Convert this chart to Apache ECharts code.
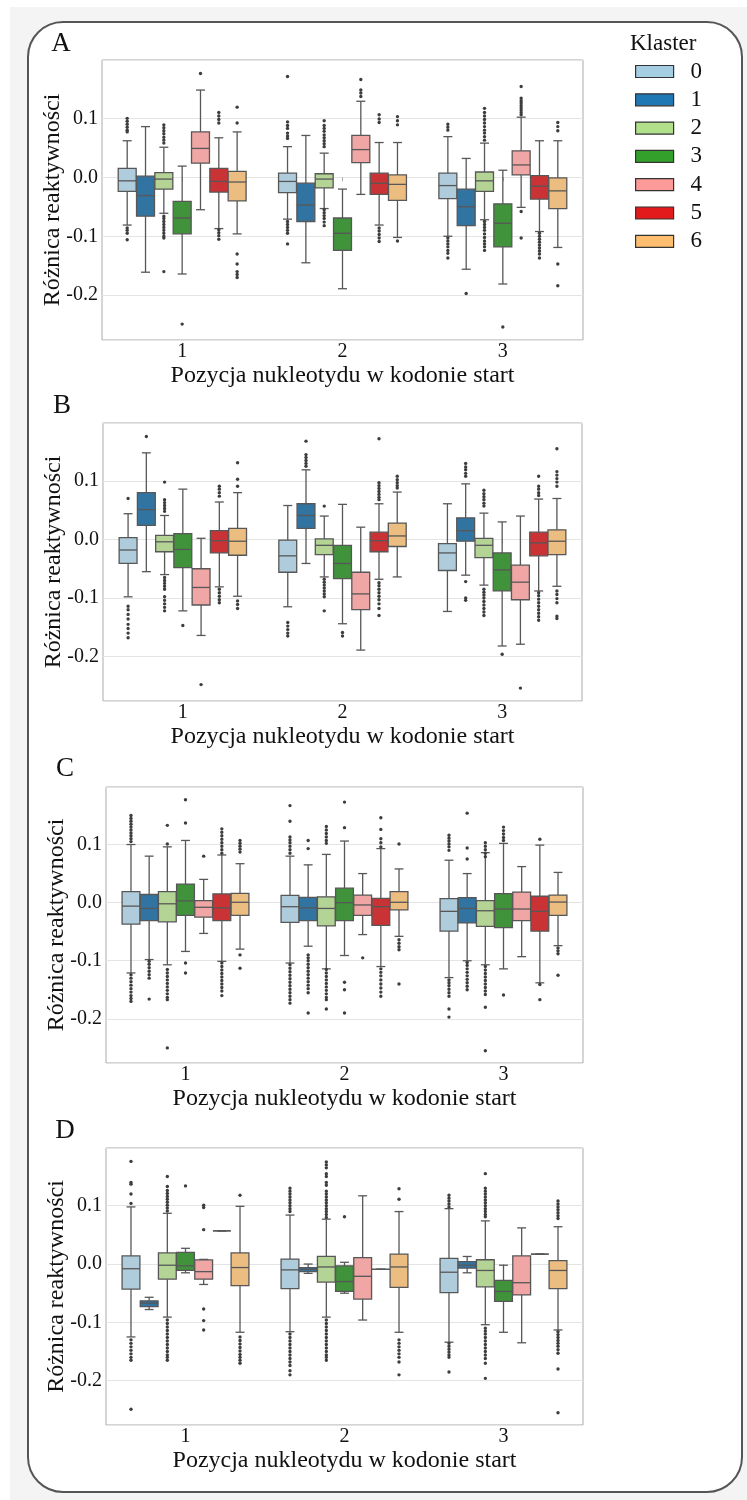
<!DOCTYPE html>
<html>
<head>
<meta charset="utf-8">
<script src="https://cdn.jsdelivr.net/npm/echarts@6/dist/echarts.min.js"></script>
<style>
  html, body { margin: 0; padding: 0; background: #fff; }
  .page { position: absolute; left: 10px; top: 7px; width: 737px; height: 1493px; background: #f4f4f4; }
  .frame { position: absolute; left: 27px; top: 21px; width: 716px; height: 1472px; box-sizing: border-box;
           border: 2px solid #555; border-radius: 36px; background: #fff; }
  #main { position: absolute; left: 0; top: 0; width: 747px; height: 1500px; }
</style>
</head>
<body>
<div class="page"></div>
<div class="frame"></div>
<div id="main"></div>
<script>
// categories
const positions = ['1', '2', '3'];
const clusters = ['0', '1', '2', '3', '4', '5', '6'];
const xName = 'Pozycja nukleotydu w kodonie start';
const yName = 'Różnica reaktywności';

// boxes: [cluster][position] = [low whisker, q1, median, q3, high whisker]
const boxesA = [
  [[-0.081, -0.024, -0.006, 0.015, 0.062], [-0.071, -0.026, -0.007, 0.007, 0.052], [-0.100, -0.036, -0.014, 0.007, 0.069]],
  [[-0.161, -0.066, -0.031, 0.002, 0.086], [-0.145, -0.075, -0.047, -0.010, 0.071], [-0.156, -0.082, -0.050, -0.020, 0.032]],
  [[-0.061, -0.020, -0.003, 0.008, 0.051], [-0.053, -0.018, -0.003, 0.006, 0.041], [-0.072, -0.024, -0.006, 0.009, 0.058]],
  [[-0.164, -0.096, -0.069, -0.041, 0.019], [-0.189, -0.124, -0.095, -0.069, -0.020], [-0.181, -0.118, -0.078, -0.045, 0.012]],
  [[-0.055, 0.024, 0.049, 0.077, 0.148], [-0.029, 0.025, 0.047, 0.071, 0.129], [-0.051, 0.004, 0.021, 0.045, 0.102]],
  [[-0.087, -0.025, -0.007, 0.015, 0.067], [-0.081, -0.029, -0.010, 0.007, 0.059], [-0.092, -0.037, -0.015, 0.003, 0.062]],
  [[-0.096, -0.040, -0.008, 0.010, 0.077], [-0.102, -0.039, -0.012, 0.004, 0.059], [-0.119, -0.053, -0.023, -0.001, 0.062]]
];
const boxesB = [
  [[-0.098, -0.041, -0.018, 0.003, 0.044], [-0.115, -0.056, -0.028, -0.001, 0.058], [-0.123, -0.053, -0.023, -0.007, 0.061]],
  [[-0.055, 0.024, 0.051, 0.080, 0.148], [-0.041, 0.019, 0.041, 0.061, 0.119], [-0.061, -0.003, 0.015, 0.037, 0.095]],
  [[-0.060, -0.021, -0.004, 0.007, 0.041], [-0.064, -0.026, -0.010, 0.001, 0.040], [-0.078, -0.031, -0.010, 0.002, 0.045]],
  [[-0.122, -0.048, -0.017, 0.010, 0.086], [-0.144, -0.067, -0.041, -0.010, 0.060], [-0.182, -0.088, -0.052, -0.023, 0.030]],
  [[-0.164, -0.112, -0.082, -0.050, 0.002], [-0.189, -0.120, -0.093, -0.056, 0.021], [-0.179, -0.103, -0.073, -0.044, 0.040]],
  [[-0.081, -0.023, -0.002, 0.015, 0.064], [-0.068, -0.021, -0.002, 0.0125, 0.061], [-0.088, -0.028, -0.006, 0.0125, 0.069]],
  [[-0.097, -0.027, -0.003, 0.019, 0.080], [-0.064, -0.012, 0.006, 0.028, 0.081], [-0.080, -0.026, -0.003, 0.0165, 0.070]]
];
const boxesC = [
  [[-0.121, -0.037, -0.006, 0.019, 0.100], [-0.104, -0.034, -0.007, 0.0126, 0.080], [-0.129, -0.049, -0.015, 0.007, 0.073]],
  [[-0.098, -0.031, -0.010, 0.014, 0.080], [-0.075, -0.031, -0.009, 0.009, 0.065], [-0.100, -0.035, -0.010, 0.0086, 0.050]],
  [[-0.107, -0.033, -0.002, 0.019, 0.096], [-0.114, -0.040, -0.010, 0.010, 0.083], [-0.107, -0.041, -0.014, 0.0034, 0.086]],
  [[-0.084, -0.022, 0.003, 0.032, 0.107], [-0.091, -0.031, 0.000, 0.025, 0.106], [-0.114, -0.043, -0.011, 0.0154, 0.102]],
  [[-0.053, -0.025, -0.008, 0.0034, 0.040], [-0.055, -0.022, -0.004, 0.013, 0.050], [-0.093, -0.031, -0.011, 0.018, 0.062]],
  [[-0.101, -0.031, -0.009, 0.015, 0.082], [-0.110, -0.039, -0.007, 0.0074, 0.093], [-0.138, -0.049, -0.015, 0.011, 0.099]],
  [[-0.080, -0.022, 0.0006, 0.016, 0.067], [-0.058, -0.0126, 0.0006, 0.019, 0.058], [-0.074, -0.022, 0.001, 0.013, 0.052]]
];
const boxesD = [
  [[-0.125, -0.043, -0.008, 0.014, 0.098], [-0.116, -0.042, -0.010, 0.0086, 0.084], [-0.134, -0.049, -0.014, 0.0097, 0.095]],
  [[-0.078, -0.073, -0.067, -0.063, -0.057], [-0.016, -0.013, -0.009, -0.006, 0.000], [-0.015, -0.007, -0.002, 0.004, 0.013]],
  [[-0.091, -0.026, -0.002, 0.019, 0.087], [-0.091, -0.031, -0.005, 0.013, 0.077], [-0.104, -0.039, -0.011, 0.0074, 0.074]],
  [[-0.015, -0.011, -0.003, 0.020, 0.027], [-0.050, -0.047, -0.030, -0.003, 0.003], [-0.117, -0.064, -0.047, -0.028, -0.002]],
  [[-0.035, -0.026, -0.013, 0.007, 0.008], [-0.096, -0.060, -0.021, 0.011, 0.117], [-0.135, -0.053, -0.032, 0.014, 0.062]],
  [[0.057, 0.057, 0.057, 0.057, 0.057], [-0.009, -0.009, -0.009, -0.009, -0.009], [0.017, 0.017, 0.017, 0.017, 0.017]],
  [[-0.117, -0.037, -0.006, 0.019, 0.099], [-0.117, -0.040, -0.005, 0.017, 0.090], [-0.113, -0.042, -0.011, 0.006, 0.064]]
];

// outliers: [cluster][position] = values
const outliersA = [
  [[0.100, 0.095, 0.090, 0.085, 0.080, 0.077, -0.086, -0.090, -0.095, -0.106],
   [0.171, 0.094, 0.088, 0.083, 0.075, 0.070, 0.066, -0.075, -0.080, -0.085, -0.090, -0.095, -0.113],
   [0.090, 0.085, 0.080, -0.103, -0.108, -0.113, -0.118, -0.124, -0.129, -0.137]],
  [[], [], [-0.197]],
  [[0.089, 0.084, 0.079, 0.074, 0.068, 0.063, 0.058, -0.066, -0.070, -0.075, -0.080, -0.085, -0.090, -0.095, -0.100, -0.103, -0.160],
   [0.096, 0.088, 0.083, 0.078, 0.072, 0.067, 0.062, 0.057, 0.052, -0.055, -0.060, -0.065, -0.070, -0.076, -0.082],
   [0.117, 0.110, 0.104, 0.098, 0.092, 0.086, 0.080, 0.075, 0.069, 0.063, -0.075, -0.080, -0.085, -0.090, -0.096, -0.102, -0.108, -0.113, -0.118, -0.124]],
  [[-0.249], [], [-0.254]],
  [[0.176], [0.166, 0.148, 0.143, 0.137], [0.154, 0.134, 0.130, 0.126, 0.122, 0.118, 0.114, 0.110, 0.106, -0.058, -0.103]],
  [[0.110, 0.104, 0.098, 0.092, -0.089, -0.094, -0.099, -0.105],
   [0.106, 0.099, 0.093, -0.086, -0.091, -0.097, -0.103, -0.109],
   [-0.095, -0.100, -0.105, -0.110, -0.115, -0.120, -0.125, -0.130, -0.137]],
  [[0.119, 0.092, -0.130, -0.147, -0.160, -0.165, -0.170], [0.103, 0.096, 0.089, -0.108], [0.093, 0.086, 0.079, -0.147, -0.184]]
];
const outliersB = [
  [[0.070, -0.114, -0.120, -0.128, -0.136, -0.145, -0.152, -0.160, -0.168], [-0.142, -0.148, -0.154, -0.160, -0.165], []],
  [[0.176], [0.168, 0.145, 0.140, 0.135, 0.130, 0.125], [0.130, 0.124, 0.119, 0.113, 0.108, -0.072, -0.100, -0.104]],
  [[0.098, 0.068, 0.063, 0.058, 0.053, 0.048, -0.065, -0.070, -0.075, -0.080, -0.085, -0.098, -0.104, -0.110, -0.116, -0.122],
   [0.057, -0.068, -0.073, -0.078, -0.083, -0.088, -0.093, -0.098, -0.122],
   [0.084, 0.078, 0.073, 0.068, 0.062, 0.057, -0.085, -0.090, -0.095, -0.100, -0.106, -0.112, -0.118, -0.124, -0.130]],
  [[-0.147], [-0.159, -0.165], [-0.196]],
  [[-0.248], [], [-0.254]],
  [[0.091, 0.086, 0.080, 0.074, -0.085, -0.091, -0.097, -0.103, -0.108],
   [0.172, 0.097, 0.092, 0.087, 0.082, 0.077, 0.072, 0.068, -0.074, -0.079, -0.085, -0.091, -0.097, -0.103, -0.110, -0.118, -0.130],
   [0.108, 0.091, 0.086, 0.080, 0.075, -0.091, -0.096, -0.102, -0.108, -0.114, -0.120, -0.126, -0.132, -0.138]],
  [[0.131, 0.103, 0.091, -0.105, -0.111, -0.118], [0.108, 0.102, 0.097, 0.092, 0.088],
   [0.155, 0.116, 0.110, 0.104, 0.098, 0.091, -0.088, -0.094, -0.101, -0.108, -0.131, -0.135]]
];
const outliersC = [
  [[0.150, 0.145, 0.140, 0.135, 0.130, 0.125, 0.120, 0.115, 0.110, 0.105, -0.124, -0.130, -0.136, -0.142, -0.148, -0.154, -0.160, -0.165, -0.170],
   [0.167, 0.140, 0.113, 0.108, 0.103, 0.097, 0.091, 0.085, -0.107, -0.113, -0.119, -0.125, -0.131, -0.137, -0.143, -0.149, -0.155, -0.161, -0.167, -0.173],
   [0.116, 0.111, 0.106, 0.101, 0.096, 0.090, -0.133, -0.138, -0.143, -0.149, -0.155, -0.161, -0.183, -0.197]],
  [[-0.101, -0.106, -0.112, -0.118, -0.124, -0.130, -0.166],
   [0.107, 0.093, -0.090, -0.095, -0.100, -0.106, -0.112, -0.118, -0.124, -0.130, -0.136, -0.142, -0.148, -0.155, -0.190],
   [0.154, 0.094, 0.075, -0.103, -0.108, -0.114, -0.120, -0.126, -0.132, -0.138, -0.144, -0.150]],
  [[0.133, 0.101, -0.115, -0.121, -0.127, -0.133, -0.139, -0.145, -0.151, -0.157, -0.163, -0.167, -0.250],
   [0.131, 0.125, 0.119, 0.113, 0.107, 0.102, -0.115, -0.121, -0.127, -0.133, -0.139, -0.145, -0.151, -0.157, -0.163, -0.167, -0.183],
   [0.103, 0.097, 0.091, 0.085, 0.079, -0.110, -0.116, -0.122, -0.128, -0.134, -0.140, -0.146, -0.152, -0.158, -0.180, -0.255]],
  [[0.177, 0.137, -0.104, -0.121], [0.173, 0.129, -0.137, -0.150, -0.190], [0.130, 0.124, 0.118, 0.112, 0.107, -0.159]],
  [[0.080], [-0.095], []],
  [[0.127, 0.121, 0.115, 0.109, 0.103, 0.097, 0.091, 0.085, -0.104, -0.110, -0.116, -0.122, -0.128, -0.134, -0.140, -0.146, -0.152, -0.160],
   [0.146, 0.126, 0.110, 0.103, 0.096, -0.114, -0.120, -0.126, -0.133, -0.140, -0.147, -0.154, -0.161],
   [0.109, -0.141, -0.167]],
  [[0.107, 0.102, 0.097, 0.092, 0.087, -0.090, -0.113], [0.101, -0.064, -0.070, -0.076, -0.081, -0.140], [-0.078, -0.083, -0.088, -0.125]]
];
const outliersD = [
  [[0.176, 0.140, 0.137, 0.120, 0.104, -0.130, -0.136, -0.142, -0.148, -0.154, -0.160, -0.165, -0.249],
   [0.130, 0.125, 0.120, 0.115, 0.110, 0.105, 0.100, 0.095, 0.090, -0.120, -0.126, -0.132, -0.138, -0.144, -0.150, -0.156, -0.162, -0.168, -0.174, -0.183, -0.190],
   [0.118, 0.113, 0.108, 0.103, 0.098, -0.136, -0.141, -0.146, -0.151, -0.156, -0.160, -0.185]],
  [[], [], []],
  [[0.150, 0.133, 0.126, 0.121, 0.116, 0.111, 0.106, 0.101, 0.096, 0.091, -0.096, -0.102, -0.108, -0.114, -0.120, -0.126, -0.132, -0.138, -0.144, -0.150, -0.156, -0.160, -0.165],
   [0.175, 0.170, 0.165, 0.155, 0.150, 0.140, 0.135, 0.125, 0.120, 0.115, 0.110, 0.105, 0.100, 0.095, 0.090, 0.085, 0.080, -0.096, -0.102, -0.108, -0.114, -0.120, -0.126, -0.132, -0.138, -0.144, -0.150, -0.156, -0.160, -0.165],
   [0.155, 0.130, 0.125, 0.120, 0.115, 0.110, 0.105, 0.100, 0.095, 0.090, 0.085, 0.081, -0.110, -0.115, -0.120, -0.126, -0.132, -0.138, -0.144, -0.150, -0.156, -0.162, -0.170, -0.196]],
  [[0.134], [0.081], []],
  [[0.101, 0.097, 0.059, -0.077, -0.097, -0.113], [], []],
  [[], [], []],
  [[0.118, -0.125, -0.131, -0.137, -0.143, -0.149, -0.155, -0.160, -0.165, -0.170],
   [0.129, 0.111, -0.130, -0.136, -0.142, -0.148, -0.154, -0.160, -0.168, -0.190],
   [0.108, 0.103, 0.098, 0.093, 0.088, 0.083, 0.078, -0.116, -0.121, -0.126, -0.131, -0.136, -0.141, -0.147, -0.153, -0.180, -0.255]]
];

const panelLetters = ['A', 'B', 'C', 'D'];
const panelBoxes = [boxesA, boxesB, boxesC, boxesD];
const panelOutliers = [outliersA, outliersB, outliersC, outliersD];

// styling
const font = '"Liberation Serif", "Times New Roman", serif';
const ink = '#111';
const edge = '#575757';
const boxColors = ['#aeccdb', '#3274a1', '#b3d495', '#40923b', '#efa6a5', '#ca3335', '#ebbd81'];
const legendColors = ['#a6cee3', '#1f78b4', '#b2df8a', '#33a02c', '#fb9a99', '#e31a1c', '#fdbf6f'];
const grids = [
  { left: 102, top: 60, width: 481, height: 280 },
  { left: 103, top: 423, width: 479, height: 278 },
  { left: 106, top: 787, width: 477, height: 276 },
  { left: 106, top: 1148, width: 477, height: 277 }
];
const letterPos = [[61, 44], [62, 406], [65, 769], [65, 1131]];
const yMin = -0.276, yMax = 0.199;

// seaborn-like dodge: 0.8 of the band split between clusters
function dodge(api, k) {
  const slot = api.size([1, 0])[0] * 0.8 / clusters.length;
  return { off: (k - (clusters.length - 1) / 2) * slot, w: slot * 0.98 };
}

function boxRender(k) {
  return function (params, api) {
    const g = api.value(0);
    const d = dodge(api, k);
    const cx = api.coord([g, 0])[0] + d.off;
    const y = [1, 2, 3, 4, 5].map(i => api.coord([g, api.value(i)])[1]);
    const ls = { stroke: edge, lineWidth: 1.3 };
    const cap = d.w / 4;
    return {
      type: 'group',
      children: [
        { type: 'line', shape: { x1: cx, y1: y[0], x2: cx, y2: y[1] }, style: ls },
        { type: 'line', shape: { x1: cx, y1: y[3], x2: cx, y2: y[4] }, style: ls },
        { type: 'line', shape: { x1: cx - cap, y1: y[0], x2: cx + cap, y2: y[0] }, style: ls },
        { type: 'line', shape: { x1: cx - cap, y1: y[4], x2: cx + cap, y2: y[4] }, style: ls },
        { type: 'rect', shape: { x: cx - d.w / 2, y: y[3], width: d.w, height: y[1] - y[3] },
          style: { fill: boxColors[k], stroke: edge, lineWidth: 1.3 } },
        { type: 'line', shape: { x1: cx - d.w / 2, y1: y[2], x2: cx + d.w / 2, y2: y[2] }, style: ls }
      ]
    };
  };
}

function outlierRender(k) {
  return function (params, api) {
    const g = api.value(0);
    const p = api.coord([g, api.value(1)]);
    return { type: 'circle', shape: { cx: p[0] + dodge(api, k).off, cy: p[1], r: 1.7 }, style: { fill: '#3d3d3d' } };
  };
}

const series = [];
panelBoxes.forEach((boxes, p) => {
  clusters.forEach((name, k) => {
    series.push({
      type: 'custom', name: name, xAxisIndex: p, yAxisIndex: p,
      itemStyle: { color: legendColors[k] },
      renderItem: boxRender(k),
      encode: { x: 0, y: [1, 2, 3, 4, 5] },
      data: boxes[k].map((b, g) => [g].concat(b))
    });
    const pts = [];
    panelOutliers[p][k].forEach((vals, g) => vals.forEach(v => pts.push([g, v])));
    series.push({
      type: 'custom', name: 'outliers', xAxisIndex: p, yAxisIndex: p, z: 3,
      renderItem: outlierRender(k),
      encode: { x: 0, y: 1 },
      data: pts
    });
  });
});

const tickFmt = v => (Math.abs(Math.round(v * 10) - v * 10) < 1e-6 ? v.toFixed(1) : '');

const option = {
  animation: false,
  backgroundColor: 'transparent',
  textStyle: { fontFamily: font, color: ink },
  grid: grids.map(g => Object.assign({ show: true, borderColor: '#ababab', borderWidth: 1, backgroundColor: '#fff' }, g)),
  xAxis: grids.map((g, i) => ({
    type: 'category', gridIndex: i, data: positions,
    axisLine: { show: false },
    axisTick: { show: true, alignWithLabel: true, length: 4, lineStyle: { color: '#ababab' } },
    axisLabel: { fontSize: 20, color: ink, fontFamily: font, margin: 2 },
    splitLine: { show: false },
    name: xName, nameLocation: 'middle', nameGap: 24, nameMoveOverlap: false,
    nameTextStyle: { fontSize: 24, color: ink, fontFamily: font }
  })),
  yAxis: grids.map((g, i) => ({
    type: 'value', gridIndex: i, min: yMin, max: yMax, splitNumber: 5,
    axisLine: { show: false },
    axisTick: { show: false },
    axisLabel: { fontSize: 20, color: ink, fontFamily: font, margin: 4, formatter: tickFmt },
    splitLine: { show: true, lineStyle: { color: '#e4e4e4', width: 1 } },
    name: yName, nameLocation: 'middle', nameGap: 37, nameMoveOverlap: false,
    nameTextStyle: { fontSize: 24, color: ink, fontFamily: font }
  })),
  legend: {
    orient: 'vertical', left: 630, top: 55,
    icon: 'rect', itemWidth: 38, itemHeight: 12, itemGap: 5.3,
    itemStyle: { borderColor: '#333', borderWidth: 1.2 },
    textStyle: { fontSize: 23, lineHeight: 23, color: ink, fontFamily: font, padding: [0, 0, 0, 12] },
    data: clusters.map((c, k) => ({ name: c, itemStyle: { color: legendColors[k] } })),
    selectedMode: false
  },
  graphic: [
    { type: 'text', left: 630, top: 32, style: { text: 'Klaster', font: '23px ' + font, fill: ink } }
  ].concat(panelLetters.map((t, i) => ({
    type: 'text', x: letterPos[i][0], y: letterPos[i][1],
    style: { text: t, font: '27px ' + font, fill: ink, align: 'center', verticalAlign: 'middle' }
  }))),
  series: series
};

const chart = echarts.init(document.getElementById('main'), null, { renderer: 'canvas' });
chart.setOption(option);
</script>
</body>
</html>
